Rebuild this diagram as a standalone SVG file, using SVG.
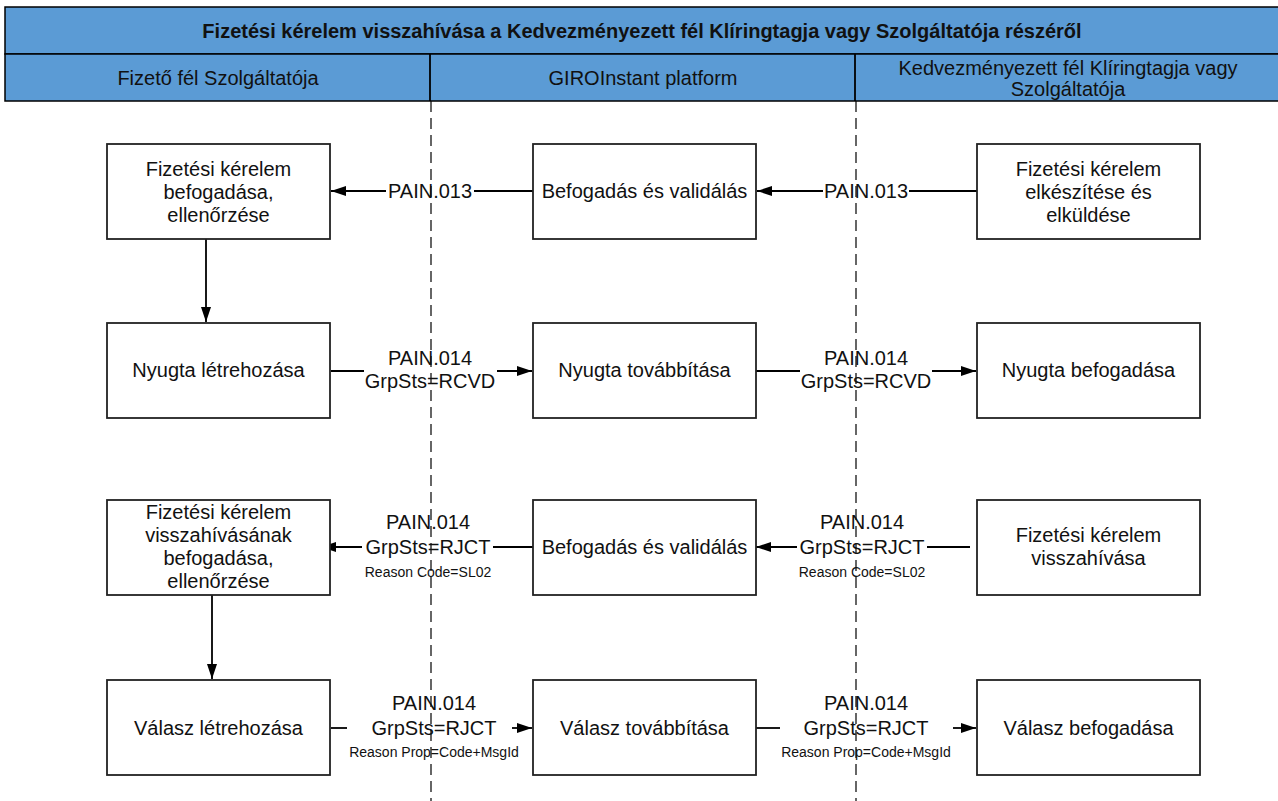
<svg xmlns="http://www.w3.org/2000/svg" width="1278" height="801" viewBox="0 0 1278 801">
<defs>
<style>
.hdr{fill:#5B9BD5;stroke:#000;stroke-width:1.5}
.t{font-family:"Liberation Sans",Arial,sans-serif;font-size:20px;fill:#111;text-anchor:middle}
.tb{font-weight:bold}
.s{font-size:14px}
.box{fill:#fff;stroke:#222;stroke-width:1.8}
.ln{stroke:#000;stroke-width:1.8;fill:none}
.dash{stroke:#000;stroke-width:1.2;stroke-dasharray:11 6;fill:none}
</style>
<marker id="ah" markerWidth="16" markerHeight="12" refX="15" refY="6" orient="auto" markerUnits="userSpaceOnUse">
<path d="M0,1 L15,6 L0,11 Z" fill="#000"/>
</marker>
</defs>
<rect width="1278" height="801" fill="#fff"/>
<g id="header">
<rect class="hdr" x="5" y="7" width="1280" height="47"/>
<rect class="hdr" x="5" y="54" width="1280" height="47"/>
<line class="ln" x1="430" y1="54" x2="430" y2="101"/>
<line class="ln" x1="855" y1="54" x2="855" y2="101"/>
<text class="t tb" x="642" y="38">Fizetési kérelem visszahívása a Kedvezményezett fél Klíringtagja vagy Szolgáltatója részéről</text>
<text class="t" x="218" y="85">Fizető fél Szolgáltatója</text>
<text class="t" x="643" y="85">GIROInstant platform</text>
<text class="t" x="1068" y="75">Kedvezményezett fél Klíringtagja vagy</text>
<text class="t" x="1068" y="96">Szolgáltatója</text>
</g>
<g id="lanes">
<line class="dash" x1="431" y1="101" x2="431" y2="801"/>
<line class="dash" x1="856" y1="101" x2="856" y2="801"/>
</g>
<g id="connectors">
<line class="ln" x1="533" y1="191" x2="474" y2="191"/>
<line class="ln" x1="386" y1="191" x2="331" y2="191" marker-end="url(#ah)"/>
<text class="t" x="430" y="198">PAIN.013</text>
<line class="ln" x1="977" y1="191" x2="909" y2="191"/>
<line class="ln" x1="823" y1="191" x2="757" y2="191" marker-end="url(#ah)"/>
<text class="t" x="866" y="198">PAIN.013</text>
<line class="ln" x1="206" y1="239" x2="206" y2="322" marker-end="url(#ah)"/>
<line class="ln" x1="331" y1="371" x2="364" y2="371"/>
<line class="ln" x1="497" y1="371" x2="532" y2="371" marker-end="url(#ah)"/>
<text class="t" x="430" y="365">PAIN.014</text>
<text class="t" x="430" y="388">GrpSts=RCVD</text>
<line class="ln" x1="756" y1="371" x2="800" y2="371"/>
<line class="ln" x1="932" y1="371" x2="976" y2="371" marker-end="url(#ah)"/>
<text class="t" x="866" y="365">PAIN.014</text>
<text class="t" x="866" y="388">GrpSts=RCVD</text>
<line class="ln" x1="533" y1="547" x2="493" y2="547"/>
<line class="ln" x1="362" y1="547" x2="321" y2="547" marker-end="url(#ah)"/>
<text class="t" x="428" y="529">PAIN.014</text>
<text class="t" x="428" y="554">GrpSts=RJCT</text>
<text class="t s" x="428" y="577">Reason Code=SL02</text>
<line class="ln" x1="970" y1="547" x2="927" y2="547"/>
<line class="ln" x1="797" y1="547" x2="756" y2="547" marker-end="url(#ah)"/>
<text class="t" x="862" y="529">PAIN.014</text>
<text class="t" x="862" y="554">GrpSts=RJCT</text>
<text class="t s" x="862" y="577">Reason Code=SL02</text>
<line class="ln" x1="212" y1="595" x2="212" y2="679" marker-end="url(#ah)"/>
<line class="ln" x1="331" y1="728" x2="347" y2="728"/>
<line class="ln" x1="512" y1="728" x2="532" y2="728" marker-end="url(#ah)"/>
<text class="t" x="434" y="710">PAIN.014</text>
<text class="t" x="434" y="735">GrpSts=RJCT</text>
<text class="t s" x="434" y="757">Reason Prop=Code+MsgId</text>
<line class="ln" x1="756" y1="728" x2="780" y2="728"/>
<line class="ln" x1="953" y1="728" x2="976" y2="728" marker-end="url(#ah)"/>
<text class="t" x="866" y="710">PAIN.014</text>
<text class="t" x="866" y="735">GrpSts=RJCT</text>
<text class="t s" x="866" y="757">Reason Prop=Code+MsgId</text>
</g>
<g id="n11"><rect class="box" x="107" y="144" width="223" height="95"/>
<text class="t" x="218.5" y="176">Fizetési kérelem</text><text class="t" x="218.5" y="199">befogadása,</text><text class="t" x="218.5" y="222">ellenőrzése</text></g>
<g id="n12"><rect class="box" x="533" y="144" width="223" height="95"/>
<text class="t" x="644.5" y="198">Befogadás és validálás</text></g>
<g id="n13"><rect class="box" x="977" y="144" width="223" height="95"/>
<text class="t" x="1088.5" y="176">Fizetési kérelem</text><text class="t" x="1088.5" y="199">elkészítése és</text><text class="t" x="1088.5" y="222">elküldése</text></g>
<g id="n21"><rect class="box" x="107" y="323" width="223" height="95"/>
<text class="t" x="218.5" y="377">Nyugta létrehozása</text></g>
<g id="n22"><rect class="box" x="533" y="323" width="223" height="95"/>
<text class="t" x="644.5" y="377">Nyugta továbbítása</text></g>
<g id="n23"><rect class="box" x="977" y="323" width="223" height="95"/>
<text class="t" x="1088.5" y="377">Nyugta befogadása</text></g>
<g id="n31"><rect class="box" x="107" y="500" width="223" height="95"/>
<text class="t" x="218.5" y="519">Fizetési kérelem</text><text class="t" x="218.5" y="542">visszahívásának</text><text class="t" x="218.5" y="565">befogadása,</text><text class="t" x="218.5" y="588">ellenőrzése</text></g>
<g id="n32"><rect class="box" x="533" y="500" width="223" height="95"/>
<text class="t" x="644.5" y="554">Befogadás és validálás</text></g>
<g id="n33"><rect class="box" x="977" y="500" width="223" height="95"/>
<text class="t" x="1088.5" y="542">Fizetési kérelem</text><text class="t" x="1088.5" y="565">visszahívása</text></g>
<g id="n41"><rect class="box" x="107" y="680" width="223" height="95"/>
<text class="t" x="218.5" y="735">Válasz létrehozása</text></g>
<g id="n42"><rect class="box" x="533" y="680" width="223" height="95"/>
<text class="t" x="644.5" y="735">Válasz továbbítása</text></g>
<g id="n43"><rect class="box" x="977" y="680" width="223" height="95"/>
<text class="t" x="1088.5" y="735">Válasz befogadása</text></g>
</svg>
